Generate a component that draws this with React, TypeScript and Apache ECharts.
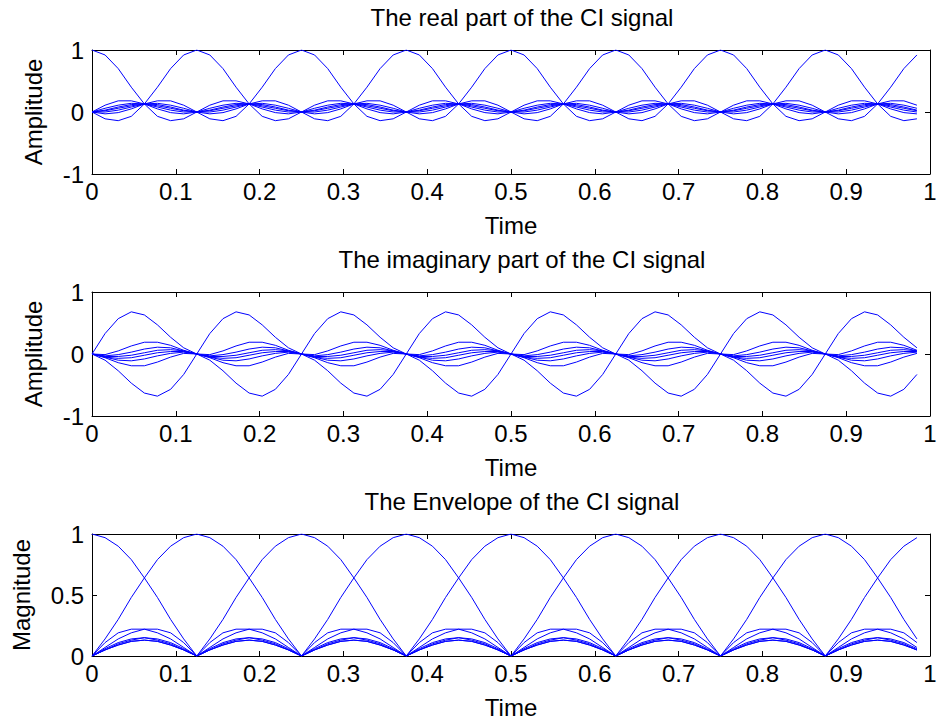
import React, { useEffect, useRef } from "react";
import * as echarts from "echarts";

// Sample instants (s): 64 samples over one second
const time = [
  0, 0.0156, 0.0313, 0.0469, 0.0625, 0.0781, 0.0938, 0.1094,
  0.125, 0.1406, 0.1563, 0.1719, 0.1875, 0.2031, 0.2188, 0.2344,
  0.25, 0.2656, 0.2813, 0.2969, 0.3125, 0.3281, 0.3438, 0.3594,
  0.375, 0.3906, 0.4063, 0.4219, 0.4375, 0.4531, 0.4688, 0.4844,
  0.5, 0.5156, 0.5313, 0.5469, 0.5625, 0.5781, 0.5938, 0.6094,
  0.625, 0.6406, 0.6563, 0.6719, 0.6875, 0.7031, 0.7188, 0.7344,
  0.75, 0.7656, 0.7813, 0.7969, 0.8125, 0.8281, 0.8438, 0.8594,
  0.875, 0.8906, 0.9063, 0.9219, 0.9375, 0.9531, 0.9688, 0.9844,
];

// Real part of one CI pulse, in eight-sample pieces
const reC0 = [1, 0.92, 0.7, 0.4, 0.13, -0.07, -0.14, -0.11];
const reC1 = [0, 0.11, 0.18, 0.18, 0.13, 0.05, -0.01, -0.03];
const reC2 = [0, 0.06, 0.11, 0.14, 0.13, 0.08, 0.03, 0];
const reC3 = [0, 0.03, 0.08, 0.12, 0.13, 0.1, 0.06, 0.02];
const reC4 = [0, 0.02, 0.06, 0.1, 0.13, 0.12, 0.08, 0.03];
const reC5 = [0, 0, 0.03, 0.08, 0.13, 0.14, 0.11, 0.06];
const reC6 = [0, -0.03, -0.01, 0.05, 0.13, 0.18, 0.18, 0.11];
const reC7 = [0, -0.11, -0.14, -0.07, 0.13, 0.4, 0.7, 0.92];

// Imaginary part of one CI pulse
const imC0 = [0, 0.33, 0.57, 0.68, 0.63, 0.47, 0.27, 0.1];
const imC1 = [0, -0.01, 0.05, 0.13, 0.19, 0.19, 0.14, 0.06];
const imC2 = [0, -0.03, -0.01, 0.03, 0.08, 0.11, 0.1, 0.05];
const imC3 = [0, -0.04, -0.04, -0.02, 0.02, 0.06, 0.07, 0.05];
const imC4 = [0, -0.05, -0.07, -0.06, -0.02, 0.02, 0.04, 0.04];
const imC5 = [0, -0.05, -0.1, -0.11, -0.08, -0.03, 0.01, 0.03];
const imC6 = [0, -0.06, -0.14, -0.19, -0.19, -0.13, -0.05, 0.01];
const imC7 = [0, -0.1, -0.27, -0.47, -0.63, -0.68, -0.57, -0.33];

// Envelope of one CI pulse
const mgC0 = [1, 0.97, 0.9, 0.79, 0.64, 0.48, 0.3, 0.14];
const mgC1 = [0, 0.11, 0.19, 0.22, 0.22, 0.19, 0.14, 0.07];
const mgC2 = [0, 0.06, 0.11, 0.14, 0.15, 0.13, 0.1, 0.05];
const mgC3 = [0, 0.05, 0.09, 0.12, 0.13, 0.12, 0.09, 0.05];
const mgC4 = [0, 0.05, 0.09, 0.12, 0.13, 0.12, 0.09, 0.05];
const mgC5 = [0, 0.05, 0.1, 0.13, 0.15, 0.14, 0.11, 0.06];
const mgC6 = [0, 0.07, 0.14, 0.19, 0.22, 0.22, 0.19, 0.11];
const mgC7 = [0, 0.14, 0.3, 0.48, 0.64, 0.79, 0.9, 0.97];

// Eight users, each pulse delayed by 1/8 s
const realUser0 = [...reC0, ...reC1, ...reC2, ...reC3, ...reC4, ...reC5, ...reC6, ...reC7];
const realUser1 = [...reC7, ...reC0, ...reC1, ...reC2, ...reC3, ...reC4, ...reC5, ...reC6];
const realUser2 = [...reC6, ...reC7, ...reC0, ...reC1, ...reC2, ...reC3, ...reC4, ...reC5];
const realUser3 = [...reC5, ...reC6, ...reC7, ...reC0, ...reC1, ...reC2, ...reC3, ...reC4];
const realUser4 = [...reC4, ...reC5, ...reC6, ...reC7, ...reC0, ...reC1, ...reC2, ...reC3];
const realUser5 = [...reC3, ...reC4, ...reC5, ...reC6, ...reC7, ...reC0, ...reC1, ...reC2];
const realUser6 = [...reC2, ...reC3, ...reC4, ...reC5, ...reC6, ...reC7, ...reC0, ...reC1];
const realUser7 = [...reC1, ...reC2, ...reC3, ...reC4, ...reC5, ...reC6, ...reC7, ...reC0];

const imagUser0 = [...imC0, ...imC1, ...imC2, ...imC3, ...imC4, ...imC5, ...imC6, ...imC7];
const imagUser1 = [...imC7, ...imC0, ...imC1, ...imC2, ...imC3, ...imC4, ...imC5, ...imC6];
const imagUser2 = [...imC6, ...imC7, ...imC0, ...imC1, ...imC2, ...imC3, ...imC4, ...imC5];
const imagUser3 = [...imC5, ...imC6, ...imC7, ...imC0, ...imC1, ...imC2, ...imC3, ...imC4];
const imagUser4 = [...imC4, ...imC5, ...imC6, ...imC7, ...imC0, ...imC1, ...imC2, ...imC3];
const imagUser5 = [...imC3, ...imC4, ...imC5, ...imC6, ...imC7, ...imC0, ...imC1, ...imC2];
const imagUser6 = [...imC2, ...imC3, ...imC4, ...imC5, ...imC6, ...imC7, ...imC0, ...imC1];
const imagUser7 = [...imC1, ...imC2, ...imC3, ...imC4, ...imC5, ...imC6, ...imC7, ...imC0];

const magUser0 = [...mgC0, ...mgC1, ...mgC2, ...mgC3, ...mgC4, ...mgC5, ...mgC6, ...mgC7];
const magUser1 = [...mgC7, ...mgC0, ...mgC1, ...mgC2, ...mgC3, ...mgC4, ...mgC5, ...mgC6];
const magUser2 = [...mgC6, ...mgC7, ...mgC0, ...mgC1, ...mgC2, ...mgC3, ...mgC4, ...mgC5];
const magUser3 = [...mgC5, ...mgC6, ...mgC7, ...mgC0, ...mgC1, ...mgC2, ...mgC3, ...mgC4];
const magUser4 = [...mgC4, ...mgC5, ...mgC6, ...mgC7, ...mgC0, ...mgC1, ...mgC2, ...mgC3];
const magUser5 = [...mgC3, ...mgC4, ...mgC5, ...mgC6, ...mgC7, ...mgC0, ...mgC1, ...mgC2];
const magUser6 = [...mgC2, ...mgC3, ...mgC4, ...mgC5, ...mgC6, ...mgC7, ...mgC0, ...mgC1];
const magUser7 = [...mgC1, ...mgC2, ...mgC3, ...mgC4, ...mgC5, ...mgC6, ...mgC7, ...mgC0];

const realUsers = [realUser0, realUser1, realUser2, realUser3, realUser4, realUser5, realUser6, realUser7];
const imagUsers = [imagUser0, imagUser1, imagUser2, imagUser3, imagUser4, imagUser5, imagUser6, imagUser7];
const magUsers = [magUser0, magUser1, magUser2, magUser3, magUser4, magUser5, magUser6, magUser7];

const titles = [
  "The real part of the CI signal",
  "The imaginary part of the CI signal",
  "The Envelope of the CI signal",
];
const yNames = ["Amplitude", "Amplitude", "Magnitude"];
const xName = "Time";

const FONT = "Liberation Sans";
const FS = 24;

export default function App() {
  const ref = useRef<HTMLDivElement>(null);
  useEffect(() => {
    if (!ref.current) return;
    const chart = echarts.init(ref.current, undefined, { renderer: "svg" });
    const tops = [50, 292, 534];
    const heights = [124, 124, 122];
    const yRanges = [
      { min: -1, max: 1, interval: 1 },
      { min: -1, max: 1, interval: 1 },
      { min: 0, max: 1, interval: 0.5 },
    ];
    const datasets = [realUsers, imagUsers, magUsers];
    const grid: any[] = [];
    const xAxis: any[] = [];
    const yAxis: any[] = [];
    const series: any[] = [];
    const graphic: any[] = [];
    const line = { show: true, lineStyle: { color: "#000", width: 1 } };
    const tick = { show: true, inside: true, length: 5, lineStyle: { color: "#000", width: 1 } };
    const lbl = { color: "#000", fontFamily: FONT, fontSize: FS };
    for (let p = 0; p < 3; p++) {
      grid.push({ left: 92, right: 10, top: tops[p], height: heights[p], show: false });
      xAxis.push({
        type: "value", gridIndex: p, min: 0, max: 1, interval: 0.1, position: "bottom",
        axisLine: { ...line, onZero: false }, axisTick: tick, splitLine: { show: false },
        axisLabel: { ...lbl, margin: 5 },
        name: xName, nameLocation: "middle", nameGap: 39,
        nameTextStyle: { ...lbl },
      });
      xAxis.push({
        type: "value", gridIndex: p, min: 0, max: 1, interval: 0.1, position: "top",
        axisLine: { ...line, onZero: false }, axisTick: tick, splitLine: { show: false },
        axisLabel: { show: false },
      });
      yAxis.push({
        type: "value", gridIndex: p, ...yRanges[p], position: "left",
        axisLine: { ...line, onZero: false }, axisTick: tick, splitLine: { show: false },
        axisLabel: { ...lbl, margin: 8 },
        name: yNames[p], nameLocation: "middle", nameGap: p === 2 ? 59 : 47,
        nameTextStyle: { ...lbl },
      });
      yAxis.push({
        type: "value", gridIndex: p, ...yRanges[p], position: "right",
        axisLine: { ...line, onZero: false }, axisTick: tick, splitLine: { show: false },
        axisLabel: { show: false },
      });
      datasets[p].forEach((vals, k) => {
        series.push({
          type: "line",
          name: `user ${k + 1}`,
          xAxisIndex: 2 * p,
          yAxisIndex: 2 * p,
          data: time.map((t, i) => [t, vals[i]]),
          showSymbol: false,
          symbol: "none",
          lineStyle: { color: "#0000ff", width: 1 },
          itemStyle: { color: "#0000ff" },
          silent: true,
        });
      });
      graphic.push({
        type: "text",
        x: 522,
        y: tops[p] - 33,
        style: {
          text: titles[p],
          font: `${FS}px ${FONT}`,
          fill: "#000",
          align: "center",
          verticalAlign: "middle",
          textAlign: "center",
          textVerticalAlign: "middle",
        },
      });
    }
    chart.setOption({
      animation: false,
      backgroundColor: "#fff",
      grid,
      xAxis,
      yAxis,
      series,
      graphic,
    });
    return () => chart.dispose();
  }, []);
  return (
    <div
      ref={ref}
      style={{ position: "fixed", left: 0, top: 0, width: 940, height: 723, background: "#fff" }}
    />
  );
}
